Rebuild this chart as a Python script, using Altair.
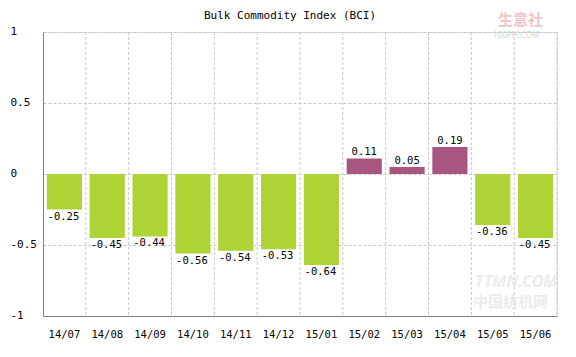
import altair as alt
import pandas as pd

months = ["14/07", "14/08", "14/09", "14/10", "14/11", "14/12",
          "15/01", "15/02", "15/03", "15/04", "15/05", "15/06"]
values = [-0.25, -0.45, -0.44, -0.56, -0.54, -0.53,
          -0.64, 0.11, 0.05, 0.19, -0.36, -0.45]
y_ticks = [-1, -0.5, 0, 0.5, 1]
title_text = "Bulk Commodity Index (BCI)"

GREEN = "#aed335"
PURPLE = "#a8557f"
GRID = "#c8c8c8"
AXIS = "#808080"
MONO = "DejaVu Sans Mono"

df = pd.DataFrame({"month": months, "value": values})
df["label"] = [f"{v:.2f}" for v in values]
df["sign"] = ["pos" if v > 0 else "neg" for v in values]

W, H = 514, 284
STEP = W / len(months)

base = alt.Chart(df)

x_main = alt.X("month:N", sort=months,
               scale=alt.Scale(paddingInner=0, paddingOuter=0),
               axis=alt.Axis(title=None, labelAngle=0, labelAlign="center",
                             labelBaseline="top", ticks=False, domain=True,
                             domainColor=AXIS, grid=False, labelFont=MONO,
                             labelFontSize=10.5, labelColor="#000",
                             labelPadding=13, zindex=1))
y_main = alt.Y("value:Q", scale=alt.Scale(domain=[-1, 1], nice=False, zero=False),
               axis=alt.Axis(title=None, values=y_ticks, grid=True, gridDash=[3, 2],
                             gridColor=GRID, domainColor=AXIS, ticks=False,
                             tickSize=0, labelAlign="left", labelPadding=33,
                             labelOffset=-1,
                             labelFont=MONO, labelFontSize=11, labelColor="#000",
                             labelExpr="'' + datum.value", zindex=0))

vrules = base.transform_filter(alt.datum.month != months[0]).mark_rule(
    strokeDash=[3, 2], color=GRID, xOffset=-STEP / 2).encode(
    x=alt.X("month:N", sort=months),
    y=alt.value(0), y2=alt.value(H))

right_rule = alt.Chart(pd.DataFrame({"a": [0]})).mark_rule(
    strokeDash=[3, 2], color=GRID).encode(
    x=alt.value(W), y=alt.value(0), y2=alt.value(H))

bars = base.mark_bar(width=alt.RelativeBandSize(0.82)).encode(
    x=x_main, y=y_main, y2=alt.datum(0),
    color=alt.Color("sign:N", scale=alt.Scale(domain=["pos", "neg"],
                                              range=[PURPLE, GREEN]), legend=None))

neg_text = base.transform_filter(alt.datum.value < 0).mark_text(
    baseline="top", dy=2, dx=-1, font=MONO, fontSize=10.5, color="#000").encode(
    x=alt.X("month:N", sort=months),
    y=alt.Y("value:Q"), text="label:N")

pos_text = base.transform_filter(alt.datum.value > 0).mark_text(
    baseline="bottom", dy=-1, font=MONO, fontSize=10.5, color="#000").encode(
    x=alt.X("month:N", sort=months),
    y=alt.Y("value:Q"), text="label:N")

title = alt.Chart(pd.DataFrame({"t": [title_text]})).mark_text(
    font=MONO, fontSize=11, color="#000", baseline="middle").encode(
    x=alt.value(247), y=alt.value(-16), text="t:N")

logo1 = alt.Chart(pd.DataFrame({"t": ["生意社"]})).mark_text(
    font="Noto Sans CJK SC", fontSize=15, color="#f0c4c4", align="left",
    baseline="middle", fontWeight="bold").encode(
    x=alt.value(455), y=alt.value(-12), text="t:N")
logo2 = alt.Chart(pd.DataFrame({"t": ["100PPI.COM"]})).mark_text(
    font="Noto Sans", fontSize=8, color="#cfd8cf", align="left",
    baseline="middle").encode(
    x=alt.value(450), y=alt.value(4), text="t:N")
wm1 = alt.Chart(pd.DataFrame({"t": ["TTMN.COM"]})).mark_text(
    font="Noto Sans", fontSize=16, fontStyle="italic", fontWeight="bold",
    color="#e4e4e4", opacity=0.7, align="left", baseline="middle").encode(
    x=alt.value(432), y=alt.value(250), text="t:N")
wm2 = alt.Chart(pd.DataFrame({"t": ["中国纺机网"]})).mark_text(
    font="Noto Sans CJK SC", fontSize=15, fontWeight="bold",
    color="#e4e4e4", opacity=0.7, align="left", baseline="middle").encode(
    x=alt.value(430), y=alt.value(270), text="t:N")

chart = alt.layer(vrules, right_rule, bars, neg_text, pos_text, title, logo1, logo2, wm1, wm2).properties(
    width=W, height=H,
    autosize=alt.AutoSizeParams(type="none"),
    padding={"left": 35, "top": 24, "right": 11, "bottom": 33},
).configure_view(stroke=None).configure(background="white")

chart.save("out.html", embed_options={"renderer": "svg", "actions": False})
